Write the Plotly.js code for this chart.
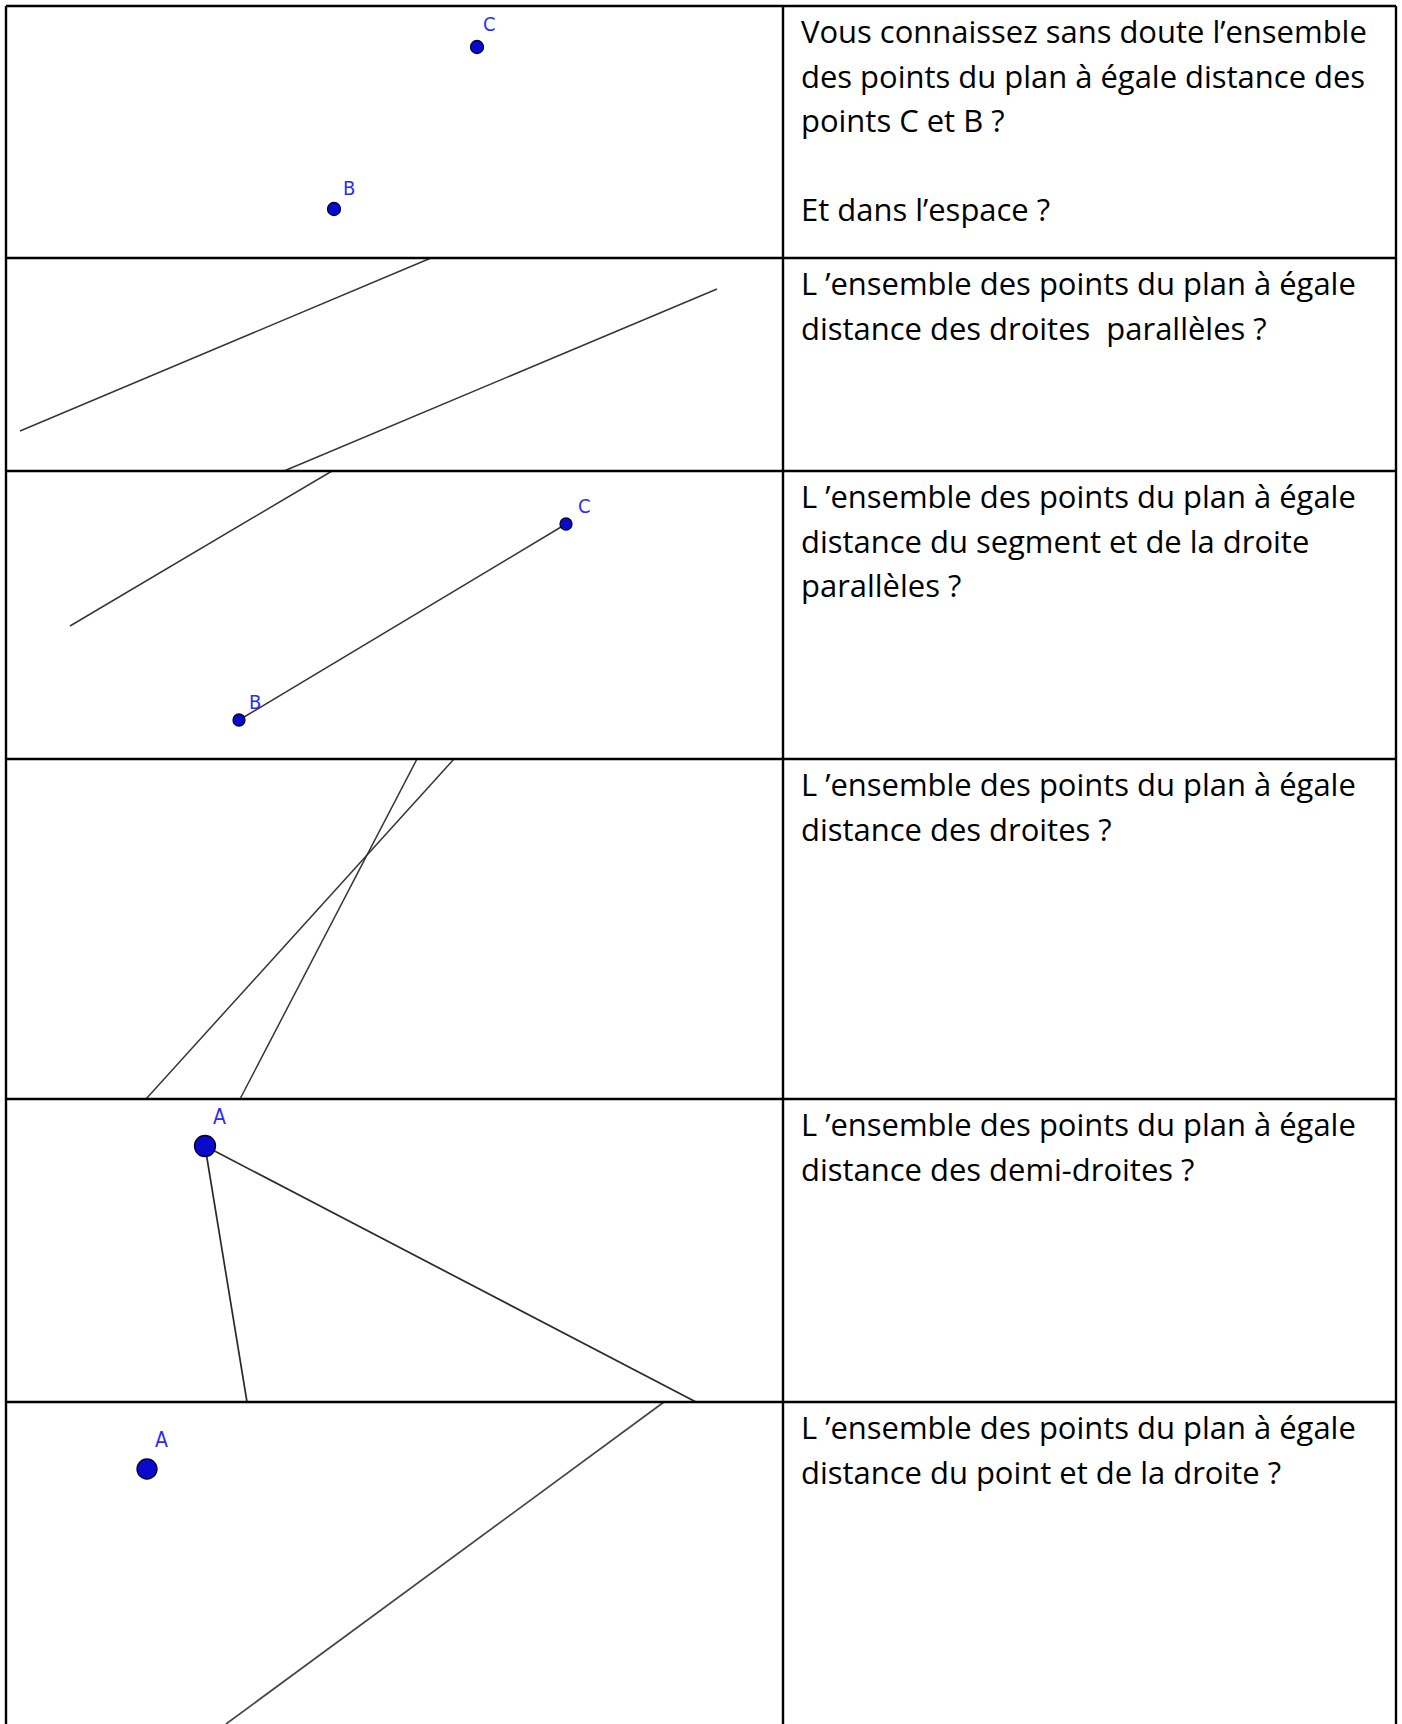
<!DOCTYPE html>
<html>
<head>
<meta charset="utf-8">
<script src="https://cdn.plot.ly/plotly-3.0.1.min.js"></script>
<style>
  html, body { margin: 0; padding: 0; background: #ffffff; }
  #chart { width: 1402px; height: 1724px; }
</style>
</head>
<body>
<div id="chart"></div>
<script>
// ---------- Data (pixel coordinates of the original figure) ----------
// Table grid
const rowTops = [6, 258, 471, 759, 1099, 1402];
const tableBottom = 1724;
const colEdges = [6, 783, 1396];

// Question texts (one array per row, one entry per line)
const texts1 = ["Vous connaissez sans doute l’ensemble", "des points du plan à égale distance des", "points C et B ?", "", "Et dans l’espace ?"];
const texts2 = ["L ’ensemble des points du plan à égale", "distance des droites  parallèles ?"];
const texts3 = ["L ’ensemble des points du plan à égale", "distance du segment et de la droite", "parallèles ?"];
const texts4 = ["L ’ensemble des points du plan à égale", "distance des droites ?"];
const texts5 = ["L ’ensemble des points du plan à égale", "distance des demi-droites ?"];
const texts6 = ["L ’ensemble des points du plan à égale", "distance du point et de la droite ?"];

// Row 1: points C and B
const r1PointX = [477, 334];
const r1PointY = [47, 209];
const r1Labels = ["C", "B"];
const r1LabelX = [489, 349];
const r1LabelY = [24, 188];

// Row 2: two parallel lines
const r2LineAX = [20, 431];
const r2LineAY = [431, 258];
const r2LineBX = [284, 717];
const r2LineBY = [471, 289];

// Row 3: a line and a parallel segment [BC]
const r3LineX = [70, 332];
const r3LineY = [626, 471];
const r3SegX = [239, 566];
const r3SegY = [720, 524];
const r3Labels = ["C", "B"];
const r3LabelX = [584, 255];
const r3LabelY = [506, 702];

// Row 4: two intersecting lines
const r4LineAX = [146, 454];
const r4LineAY = [1099, 759];
const r4LineBX = [240, 417];
const r4LineBY = [1099, 759];

// Row 5: two rays from A
const r5RayAX = [205, 247];
const r5RayAY = [1146, 1402];
const r5RayBX = [205, 696];
const r5RayBY = [1146, 1402];
const r5PointX = [205];
const r5PointY = [1146];
const r5LabelX = [219];
const r5LabelY = [1117];

// Row 6: a point A and a line
const r6LineX = [664, 226];
const r6LineY = [1402, 1724];
const r6PointX = [147];
const r6PointY = [1469];
const r6LabelX = [161];
const r6LabelY = [1440];

// ---------- Styles ----------
const lineColor = "#353535";
const pointColor = "#0a0acc";
const labelColor = "#2b2bff";
const labelFont = "Liberation Sans Narrow, DejaVu Sans Condensed, Liberation Sans, sans-serif";
const textFont = "Open Sans, DejaVu Sans, sans-serif";

// text size fitted to the original line width
function fitSize(str, targetWidth, fam) {
  const c = document.createElement("canvas").getContext("2d");
  c.font = "100px " + fam;
  return 100 * targetWidth / c.measureText(str).width;
}
const fs = Math.min(31, Math.max(22, fitSize(texts1[0], 566, "'Open Sans'")));

function lineTrace(xs, ys, color, width) {
  return { type: "scatter", mode: "lines", x: xs, y: ys, hoverinfo: "skip",
           line: { color: color || lineColor, width: width || 1.5 }, showlegend: false };
}
function pointTrace(xs, ys, size) {
  return { type: "scatter", mode: "markers", x: xs, y: ys, hoverinfo: "skip", showlegend: false,
           marker: { color: pointColor, size: size, line: { color: "#000033", width: 1.3 } } };
}

const traces = [
  lineTrace(r2LineAX, r2LineAY),
  lineTrace(r2LineBX, r2LineBY),
  lineTrace(r3LineX, r3LineY),
  lineTrace(r3SegX, r3SegY),
  lineTrace(r4LineAX, r4LineAY),
  lineTrace(r4LineBX, r4LineBY),
  lineTrace(r5RayAX, r5RayAY, "#2a2a2a", 1.7),
  lineTrace(r5RayBX, r5RayBY, "#2a2a2a", 1.7),
  lineTrace(r6LineX, r6LineY, "#444444", 1.7),
  pointTrace(r1PointX, r1PointY, 13),
  pointTrace(r3SegX.slice().reverse(), r3SegY.slice().reverse(), 12),
  pointTrace(r5PointX, r5PointY, 21),
  pointTrace(r6PointX, r6PointY, 20)
];

// ---------- Annotations ----------
const annotations = [];
function addLabels(xs, ys, labels, size) {
  xs.forEach((x, i) => annotations.push({
    x: x, y: ys[i], xref: "x", yref: "y", text: labels[i], showarrow: false,
    xanchor: "center", yanchor: "middle",
    font: { family: labelFont, size: size, color: labelColor }
  }));
}
addLabels(r1LabelX, r1LabelY, r1Labels, 20);
addLabels(r3LabelX, r3LabelY, r3Labels, 20);
addLabels(r5LabelX, r5LabelY, ["A"], 21);
addLabels(r6LabelX, r6LabelY, ["A"], 21);

const allTexts = [texts1, texts2, texts3, texts4, texts5, texts6];
allTexts.forEach((lines, r) => {
  lines.forEach((t, i) => {
    if (!t) return;
    const baseline = rowTops[r] + 36 + i * 44.5;
    annotations.push({
      x: colEdges[1] + 16, y: baseline - 0.34 * fs, xref: "x", yref: "y",
      text: t, showarrow: false, xanchor: "left", yanchor: "middle",
      font: { family: textFont, size: fs, color: "#000000", weight: 500 }
    });
  });
});

// ---------- Table grid as shapes ----------
const shapes = [];
const gridLine = { color: "#000000", width: 2.4 };
rowTops.forEach(y => shapes.push({ type: "line", xref: "x", yref: "y",
  x0: colEdges[0], x1: colEdges[2], y0: y, y1: y, line: gridLine }));
colEdges.forEach(x => shapes.push({ type: "line", xref: "x", yref: "y",
  x0: x, x1: x, y0: rowTops[0], y1: tableBottom + 5, line: gridLine }));

const layout = {
  width: 1402, height: 1724,
  margin: { l: 0, r: 0, t: 0, b: 0, pad: 0 },
  paper_bgcolor: "#ffffff", plot_bgcolor: "#ffffff",
  showlegend: false,
  xaxis: { range: [0, 1402], visible: false, fixedrange: true },
  yaxis: { range: [1724, 0], visible: false, fixedrange: true },
  shapes: shapes,
  annotations: annotations
};

Plotly.newPlot("chart", traces, layout, { staticPlot: true, displayModeBar: false });
</script>
</body>
</html>
